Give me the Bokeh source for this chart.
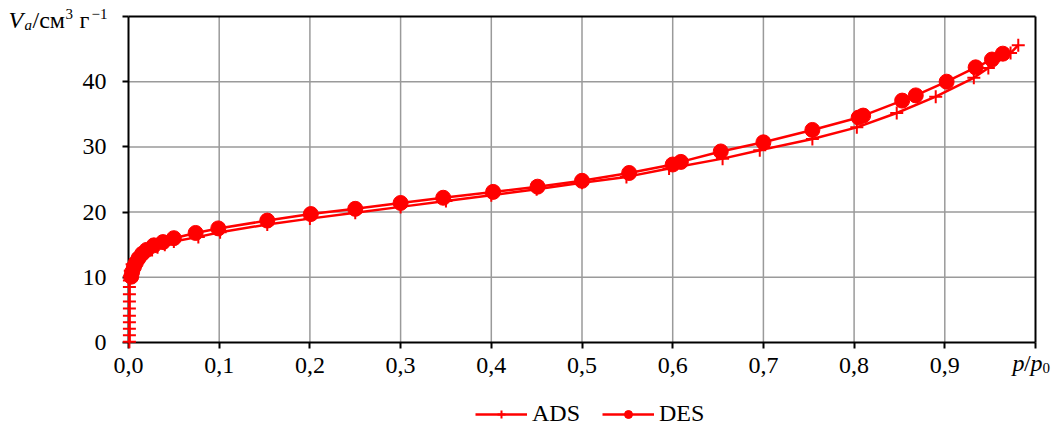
from bokeh.plotting import figure
from bokeh.models import (FixedTicker, CustomJSTickFormatter, Legend, LegendItem,
                          Label, Range1d)
from bokeh.embed import file_html
from bokeh.resources import INLINE

# ---- data ----
ads_p = [0.001, 0.001, 0.001, 0.001, 0.001, 0.001, 0.001, 0.001, 0.001, 0.001,
         0.0015, 0.002, 0.004, 0.008, 0.013, 0.020, 0.026, 0.032, 0.040, 0.050,
         0.077, 0.101, 0.153, 0.200, 0.250, 0.300, 0.350, 0.400, 0.450, 0.500,
         0.549, 0.596, 0.655, 0.696, 0.754, 0.803, 0.847, 0.890, 0.932, 0.948,
         0.9725, 0.981]
ads_v = [0.1, 1.1, 2.1, 3.1, 4.1, 5.2, 6.3, 7.4, 8.5, 9.5,
         10.2, 11.0, 12.0, 12.8, 13.3, 13.8, 14.2, 14.6, 15.0, 15.5,
         16.2, 16.9, 18.1, 19.0, 19.9, 20.8, 21.7, 22.6, 23.5, 24.5,
         25.4, 26.7, 28.2, 29.5, 31.2, 33.0, 35.2, 37.7, 40.6, 42.1,
         44.4, 45.6]

des_p = [0.964, 0.952, 0.934, 0.902, 0.868, 0.853, 0.810, 0.805, 0.754, 0.700,
         0.653, 0.609, 0.600, 0.552, 0.500, 0.451, 0.402, 0.347, 0.300, 0.250,
         0.201, 0.153, 0.099, 0.074, 0.050, 0.038, 0.028, 0.020, 0.015, 0.011,
         0.008, 0.006, 0.004, 0.003]
des_v = [44.3, 43.4, 42.2, 40.0, 37.9, 37.1, 34.8, 34.5, 32.6, 30.7,
         29.3, 27.7, 27.3, 26.0, 24.8, 23.9, 23.1, 22.2, 21.4, 20.5,
         19.7, 18.7, 17.5, 16.8, 16.0, 15.4, 14.9, 14.2, 13.6, 12.9,
         12.2, 11.6, 10.8, 10.1]

x_ticks = [0.0, 0.1, 0.2, 0.3, 0.4, 0.5, 0.6, 0.7, 0.8, 0.9, 1.0]
y_ticks = [0, 10, 20, 30, 40, 50]

RED = "#ff0000"
FONT = "Liberation Serif"
FS = "24px"
GRID = "#9a9a9a"

W, H = 1053, 425
# plot box in canvas pixels: x 128..1035, y 16..342
X0, X1, YT, YB = 128, 1035, 16, 342
xs = (x_ticks[-1] - x_ticks[0]) / (X1 - X0)
ys = (y_ticks[-1] - y_ticks[0]) / (YB - YT)
x_range = Range1d(x_ticks[0] - X0 * xs, x_ticks[-1] + (W - X1) * xs)
y_range = Range1d(y_ticks[0] - (H - YB) * ys, y_ticks[-1] + YT * ys)

p = figure(width=W, height=H, output_backend="svg", toolbar_location=None,
           x_range=x_range, y_range=y_range,
           min_border=0, min_border_left=0, min_border_right=0,
           min_border_top=0, min_border_bottom=0)
p.background_fill_color = "white"
p.border_fill_color = "white"
p.outline_line_color = None
p.xgrid.visible = False
p.ygrid.visible = False

for ax, ticks in ((p.xaxis[0], x_ticks), (p.yaxis[0], y_ticks)):
    ax.ticker = FixedTicker(ticks=ticks)
    ax.bounds = (ticks[0], ticks[-1])
    ax.fixed_location = 0
    ax.axis_line_color = "black"
    ax.axis_line_width = 2
    ax.major_tick_line_color = "black"
    ax.major_tick_line_width = 2
    ax.major_tick_out = 6
    ax.major_tick_in = 0
    ax.minor_tick_line_color = None
    ax.major_label_text_font = FONT
    ax.major_label_text_font_size = FS
    ax.major_label_text_color = "black"

p.xaxis[0].major_label_standoff = 9
p.yaxis[0].major_label_standoff = 16
p.xaxis[0].formatter = CustomJSTickFormatter(
    code="return tick > 0.95 ? '' : tick.toFixed(1).replace('.', ',');")
p.yaxis[0].formatter = CustomJSTickFormatter(
    code="return tick > 45 ? '' : tick.toFixed(0);")

# grid lines (inside the plot box only) and the top/right border
inner_x = x_ticks[1:-1]
inner_y = y_ticks[1:-1]
p.segment(x0=inner_x, y0=[y_ticks[0]] * len(inner_x), x1=inner_x,
          y1=[y_ticks[-1]] * len(inner_x), line_color=GRID, line_width=1.5)
p.segment(x0=[x_ticks[0]] * len(inner_y), y0=inner_y,
          x1=[x_ticks[-1]] * len(inner_y), y1=inner_y, line_color=GRID, line_width=1.5)
p.segment(x0=[x_ticks[0], x_ticks[-1]], y0=[y_ticks[-1], y_ticks[0]],
          x1=[x_ticks[-1], x_ticks[-1]], y1=[y_ticks[-1], y_ticks[-1]],
          line_color="black", line_width=2)

l1 = p.line(ads_p, ads_v, line_color=RED, line_width=2.5, level="overlay")
s1 = p.scatter(ads_p, ads_v, marker="cross", size=13, line_color=RED,
               line_width=2, level="overlay")
l2 = p.line(des_p, des_v, line_color=RED, line_width=2.5, level="overlay")
s2 = p.scatter(des_p, des_v, marker="circle", size=15, line_color=RED,
               fill_color=RED, line_width=1, level="overlay")

legend = Legend(items=[LegendItem(label="ADS", renderers=[l1, s1]),
                       LegendItem(label="DES", renderers=[l2, s2])],
                location=(475, -2), orientation="horizontal",
                glyph_width=52, glyph_height=20, label_standoff=5, spacing=22,
                padding=0, margin=0, border_line_color=None,
                background_fill_alpha=0, label_text_font=FONT,
                label_text_font_size=FS, label_text_color="black")
p.add_layout(legend)

def lab(x, y, txt, dx, dy, size=FS, style="normal"):
    p.add_layout(Label(x=x, y=y, text=txt, x_offset=dx, y_offset=dy,
                       text_font=FONT, text_font_size=size, text_font_style=style,
                       text_color="black", text_baseline="alphabetic",
                       text_align="left"))

# y axis title at the top-left: V_a/см3 г−1
lab(x_ticks[0], y_ticks[-1], "V", -120, -3, style="italic")
lab(x_ticks[0], y_ticks[-1], "a", -104, -8, size="15px", style="italic")
lab(x_ticks[0], y_ticks[-1], "/см", -96, -3)
lab(x_ticks[0], y_ticks[-1], "3", -63, 3, size="15px")
lab(x_ticks[0], y_ticks[-1], "г", -49, -3)
lab(x_ticks[0], y_ticks[-1], "−1", -37, 3, size="15px")

# x axis title at the right end: p/p0
lab(x_ticks[-1], y_ticks[0], "p", -23, -20, style="italic")
lab(x_ticks[-1], y_ticks[0], "/", -11.5, -20)
lab(x_ticks[-1], y_ticks[0], "p", -5, -20, style="italic")
lab(x_ticks[-1], y_ticks[0], "0", 7, -25, size="15px")

open("out.html", "w").write(file_html(p, INLINE))
